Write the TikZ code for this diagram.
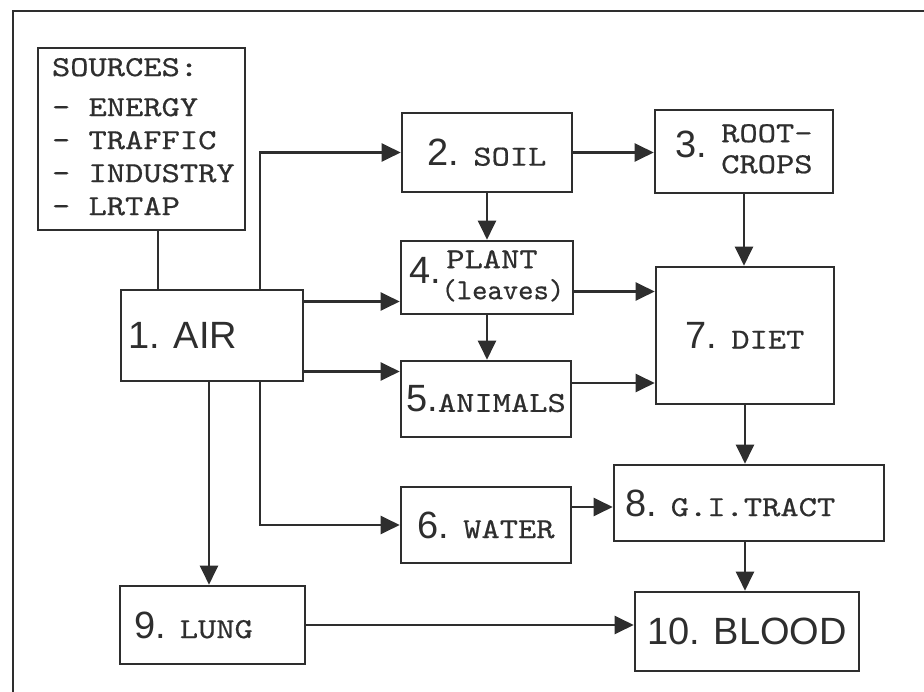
\documentclass[tikz,border=0pt]{standalone}
\usepackage{fontspec}
\usepackage{graphicx}
\setmainfont{Liberation Sans}
\setmonofont{lmmono10-regular.otf}[FakeStretch=1.2, FakeBold=0.6]
\usetikzlibrary{arrows.meta}

\newcommand\stagenum{\fontsize{38}{40}\selectfont\rmfamily}
\newcommand\stagelab{\fontsize{29}{31}\selectfont\ttfamily}
\colorlet{ink}{black!82}

\begin{document}
\begin{tikzpicture}[x=1pt, y=-1pt,
  stage/.style={draw=ink, line width=2.6pt, inner sep=0pt, text=ink},
  flow/.style={draw=ink, line width=2.2pt, -{Triangle[length=19pt,width=18pt]}},
  link/.style={draw=ink, line width=2.2pt}]
  \useasboundingbox (0,0) rectangle (924,692);
  \draw[ink, line width=1.6pt] (13,692) -- (13,11) -- (924,11);
  % boxes
  \node[stage, minimum width=207pt, minimum height=182pt] (src) at (141.5,139)
    {\makebox[179pt][l]{\fontsize{29}{33}\selectfont\ttfamily
     \begin{tabular}{@{}l@{}}SOURCES:\\[7pt] - ENERGY\\ - TRAFFIC\\ - INDUSTRY\\ - LRTAP\end{tabular}}};
  \node[stage, minimum width=182pt, minimum height=91pt] (air) at (212,335.5)
    {\makebox[168pt][l]{\stagenum 1. AIR}};
  \node[stage, minimum width=170pt, minimum height=79pt] (soil) at (487,152.5)
    {\stagenum 2. \stagelab SOIL};
  \node[stage, minimum width=178pt, minimum height=83pt] (root) at (744,151.5)
    {\stagenum 3. \stagelab\begin{tabular}{@{}l@{}}ROOT-\\CROPS\end{tabular}};
  \node[stage, minimum width=172pt, minimum height=73pt] (plant) at (487,277.5)
    {\stagenum 4.\stagelab\begin{tabular}{@{}l@{}}\,PLANT\\\scalebox{0.84}[1]{(leaves)}\end{tabular}};
  \node[stage, minimum width=170pt, minimum height=76pt] (animals) at (486,399)
    {\stagenum 5.\stagelab ANIMALS};
  \node[stage, minimum width=178pt, minimum height=137pt] (diet) at (745,335.5)
    {\stagenum 7. \stagelab DIET};
  \node[stage, minimum width=170pt, minimum height=76pt] (water) at (486,525)
    {\stagenum 6. \stagelab WATER};
  \node[stage, minimum width=270pt, minimum height=76pt] (gi) at (749,503)
    {\makebox[248pt][l]{\stagenum 8. \stagelab G.I.TRACT}};
  \node[stage, minimum width=185pt, minimum height=78pt] (lung) at (212.5,625)
    {\makebox[157pt][l]{\stagenum 9. \stagelab LUNG}};
  \node[stage, minimum width=224pt, minimum height=79pt] (blood) at (747,631.5)
    {\stagenum 10. BLOOD};
  % connectors
  \draw[link] ([xshift=16.5pt]src.south) -- ([xshift=16.5pt]src.south |- air.north);
  \draw[flow] ([xshift=48pt]air.north) |- (soil.west);
  \draw[flow] ([yshift=34pt]air.east) -- ([yshift=34pt]air.east -| plant.west);
  \draw[flow] ([yshift=-36pt]air.east) -- ([yshift=-36pt]air.east -| animals.west);
  \draw[flow] ([xshift=48pt]air.south) |- (water.west);
  \draw[flow] ([xshift=-3pt]air.south) -- ([xshift=-3pt]air.south |- lung.north);
  \draw[flow] (soil.east) -- (soil.east -| root.west);
  \draw[flow] (soil.south) -- (plant.north);
  \draw[flow] (plant.south) -- (plant.south |- animals.north);
  \draw[flow] (root.south) -- (root.south |- diet.north);
  \draw[flow] ([yshift=-14pt]plant.east) -- ([yshift=-14pt]plant.east -| diet.west);
  \draw[flow] ([yshift=16pt]animals.east) -- ([yshift=16pt]animals.east -| diet.west);
  \draw[flow] (diet.south) -- (diet.south |- gi.north);
  \draw[flow] ([yshift=18pt]water.east) -- ([yshift=18pt]water.east -| gi.west);
  \draw[flow] (diet.south |- gi.south) -- (diet.south |- blood.north);
  \draw[flow] (lung.east) -- (lung.east -| blood.west);
\end{tikzpicture}
\end{document}
